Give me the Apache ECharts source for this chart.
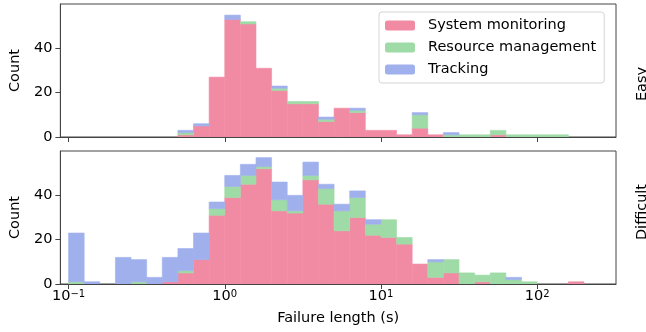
<!DOCTYPE html>
<html>
<head>
<meta charset="utf-8">
<script src="https://cdn.jsdelivr.net/npm/echarts@6/dist/echarts.min.js"></script>
<style>
  html, body { margin: 0; padding: 0; background: #fff; }
  #chart { width: 646px; height: 332px; }
</style>
</head>
<body>
<div id="chart"></div>
<script>
// Bin edges (log10 of failure length, s)
const binEdges = [-1.0,-0.9,-0.8,-0.7,-0.6,-0.5,-0.4,-0.3,-0.2,-0.1,0.0,0.1,0.2,0.3,0.4,0.5,0.6,0.7,0.8,0.9,1.0,1.1,1.2,1.3,1.4,1.5,1.6,1.7,1.8,1.9,2.0,2.1,2.2,2.3];
const categories = ['System monitoring', 'Resource management', 'Tracking'];
const panels = ['Easy', 'Difficult'];

// Easy panel counts per bin
const easySystem   = [0,0,0,0,0,0,0,1,5,27,53,51,31,21,15,15,7,13,11,3,3,1,4,1,0,0,0,1,0,0,0,0,0];
const easyResource = [0,0,0,0,0,0,0,1,0,0,0,1,0,1,1,1,1,0,1,0,0,0,6,0,1,1,1,2,1,1,1,1,0];
const easyTracking = [0,0,0,0,0,0,0,1,1,0,2,0,0,1,0,0,1,0,1,0,0,0,1,0,1,0,0,0,0,0,0,0,0];

// Difficult panel counts per bin
const diffSystem   = [0,0,0,0,0,0,1,5,11,31,39,45,52,33,32,47,36,24,30,22,21,18,9,3,5,0,1,0,0,0,0,0,1];
const diffResource = [1,0,0,0,1,0,0,1,0,3,5,4,1,5,1,2,7,9,9,5,8,3,0,7,6,5,3,5,2,1,0,0,0];
const diffTracking = [22,1,0,12,10,3,11,10,12,3,5,5,4,8,7,6,2,3,3,2,0,0,0,1,0,0,0,0,1,0,0,0,0];

const xTicks = [-1, 0, 1, 2];
const yTicks = [0, 20, 40];

const colors = ['#F18BA4', '#9FDBA6', '#A0B0EC'];
const FONT = 'DejaVu Sans';

function stackData(seriesList) {
  const out = seriesList.map(() => []);
  for (let k = 0; k < binEdges.length - 1; k++) {
    let base = 0;
    seriesList.forEach((arr, i) => {
      const v = arr[k];
      if (v > 0) out[i].push([binEdges[k], binEdges[k + 1], base, base + v]);
      base += v;
    });
  }
  return out;
}

function renderBin(params, api) {
  const p0 = api.coord([api.value(0), api.value(2)]);
  const p1 = api.coord([api.value(1), api.value(3)]);
  const c = api.visual('color');
  return {
    type: 'rect',
    shape: { x: p0[0], y: p1[1], width: p1[0] - p0[0], height: p0[1] - p1[1] },
    style: { fill: c, stroke: c, lineWidth: 0.6 }
  };
}

const easyStack = stackData([easySystem, easyResource, easyTracking]);
const diffStack = stackData([diffSystem, diffResource, diffTracking]);

const series = [];
[easyStack, diffStack].forEach((stk, gi) => {
  stk.forEach((data, i) => {
    series.push({
      type: 'custom', name: categories[i], xAxisIndex: gi, yAxisIndex: gi,
      itemStyle: { color: colors[i] }, renderItem: renderBin, data: data,
      encode: { x: [0, 1], y: [2, 3] }, z: 2, clip: true
    });
  });
});

const fmtX = v => {
  const e = v < 0 ? '\u2212' + (-v) : String(v);
  return '{b|10}{s|' + e + '}';
};

function xAxis(gi, showLabels) {
  return {
    type: 'value', gridIndex: gi, min: -1.0526, max: 2.505,
    axisLine: { show: true, onZero: false, lineStyle: { color: '#444', width: 1 } },
    axisTick: { show: true, length: 5, customValues: xTicks, lineStyle: { color: '#444' } },
    splitLine: { show: false },
    axisLabel: {
      show: showLabels, customValues: xTicks, margin: 5, formatter: fmtX,
      rich: {
        b: { fontFamily: FONT, fontSize: 14.5, color: '#000', verticalAlign: 'bottom' },
        s: { fontFamily: FONT, fontSize: 10, color: '#000', verticalAlign: 'top' }
      }
    },
    name: showLabels ? 'Failure length (s)' : '',
    nameLocation: 'middle', nameGap: 27,
    nameTextStyle: { fontFamily: FONT, fontSize: 14.5, color: '#000' }
  };
}
function yAxis(gi) {
  return {
    type: 'value', gridIndex: gi, min: 0, max: 60,
    axisLine: { show: true, onZero: false, lineStyle: { color: '#444', width: 1 } },
    axisTick: { show: true, length: 5, customValues: yTicks, lineStyle: { color: '#444' } },
    splitLine: { show: false },
    axisLabel: { customValues: yTicks, margin: 8, fontFamily: FONT, fontSize: 14.5, color: '#000' },
    name: 'Count', nameLocation: 'middle', nameGap: 36, nameRotate: 90,
    nameTextStyle: { fontFamily: FONT, fontSize: 14.5, color: '#000' }
  };
}

const chart = echarts.init(document.getElementById('chart'), null, { renderer: 'canvas' });
chart.setOption({
  animation: false,
  backgroundColor: '#fff',
  grid: [
    { left: 55, top: 4, width: 561, height: 133, show: true, borderColor: '#444', borderWidth: 1, backgroundColor: 'transparent' },
    { left: 55, top: 151, width: 561, height: 133, show: true, borderColor: '#444', borderWidth: 1, backgroundColor: 'transparent' }
  ],
  xAxis: [xAxis(0, false), xAxis(1, true)],
  yAxis: [yAxis(0), yAxis(1)],
  legend: {
    data: categories, orient: 'vertical', left: 379, top: 12,
    itemWidth: 30, itemHeight: 10, itemGap: 7,
    padding: [6, 8, 6, 6],
    backgroundColor: '#fff', borderColor: '#d4d4d4', borderWidth: 1, borderRadius: 3,
    textStyle: { fontFamily: FONT, fontSize: 14.5, color: '#000', padding: [0, 0, 0, 8] },
    selectedMode: false
  },
  graphic: [
    { type: 'text', x: 642, y: 84, rotation: Math.PI / 2,
      style: { text: panels[0], fontFamily: FONT, fontSize: 14.5, fill: '#000', align: 'center', verticalAlign: 'middle' } },
    { type: 'text', x: 642, y: 212, rotation: Math.PI / 2,
      style: { text: panels[1], fontFamily: FONT, fontSize: 14.5, fill: '#000', align: 'center', verticalAlign: 'middle' } }
  ],
  series: series
});
</script>
</body>
</html>
